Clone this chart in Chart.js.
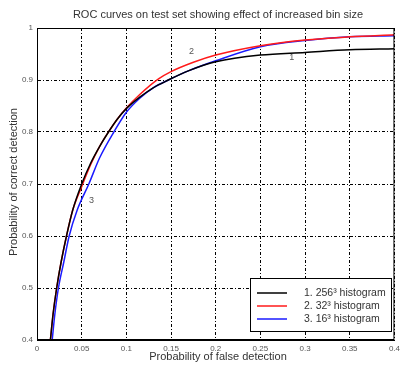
<!DOCTYPE html>
<html>
<head>
<meta charset="utf-8">
<script src="https://cdn.jsdelivr.net/npm/chart.js@4"></script>
<style>
  body { margin: 0; background: #fff; }
  canvas { display: block; }
</style>
</head>
<body>
<canvas id="rocChart" width="404" height="367"></canvas>
<script>
// 曲線データ (偽検出率 / 正検出率)
const fpr256 = [0.015, 0.018, 0.022, 0.027, 0.033, 0.040, 0.050, 0.060, 0.070, 0.080, 0.090, 0.100, 0.115, 0.130, 0.147, 0.170, 0.200, 0.250, 0.300, 0.350, 0.400];
const tpr256 = [0.40, 0.45, 0.50, 0.55, 0.60, 0.65, 0.70, 0.74, 0.772, 0.80, 0.825, 0.845, 0.867, 0.885, 0.90, 0.918, 0.935, 0.948, 0.953, 0.958, 0.960];

const fpr32 = [0.015, 0.018, 0.022, 0.027, 0.033, 0.040, 0.050, 0.060, 0.070, 0.080, 0.090, 0.100, 0.115, 0.136, 0.150, 0.175, 0.200, 0.250, 0.300, 0.350, 0.400];
const tpr32 = [0.40, 0.45, 0.50, 0.55, 0.60, 0.65, 0.695, 0.737, 0.772, 0.80, 0.825, 0.846, 0.872, 0.902, 0.916, 0.934, 0.948, 0.966, 0.977, 0.983, 0.987];

const fpr16 = [0.017, 0.020, 0.024, 0.030, 0.036, 0.045, 0.058, 0.070, 0.086, 0.100, 0.115, 0.130, 0.147, 0.170, 0.200, 0.250, 0.300, 0.350, 0.400];
const tpr16 = [0.40, 0.45, 0.50, 0.55, 0.60, 0.65, 0.70, 0.75, 0.80, 0.838, 0.865, 0.885, 0.90, 0.918, 0.937, 0.964, 0.976, 0.983, 0.985];

const seriesLabels = ['1. 256³ histogram', '2. 32³ histogram', '3. 16³ histogram'];
const curveTags = ['1', '2', '3'];

const toPoints = (xs, ys) => xs.map((x, i) => ({ x: x, y: ys[i] }));

// 枠・タイトル・凡例などを描くプラグイン
const decorPlugin = {
    id: 'decor',
    afterDraw(chart) {
        const ctx = chart.ctx;
        const area = chart.chartArea;
        const xs = chart.scales.x;
        const ys = chart.scales.y;
        ctx.save();

        // 外枠
        ctx.strokeStyle = '#000';
        ctx.lineWidth = 1;
        ctx.setLineDash([]);
        ctx.strokeRect(area.left + 0.5, area.top + 0.5, area.right - area.left - 1, area.bottom - area.top - 1);

        // タイトル
        ctx.fillStyle = '#333';
        ctx.font = '11px "Liberation Sans", Arial, sans-serif';
        ctx.textAlign = 'center';
        ctx.textBaseline = 'middle';
        ctx.fillText('ROC curves on test set showing effect of increased bin size', 218, 15);

        // 軸タイトル
        ctx.fillText('Probability of false detection', 218, 357);
        ctx.save();
        ctx.translate(14, 182);
        ctx.rotate(-Math.PI / 2);
        ctx.fillText('Probability of correct detection', 0, 0);
        ctx.restore();

        // 曲線番号
        ctx.fillStyle = '#555';
        ctx.font = '9px "Liberation Sans", Arial, sans-serif';
        ctx.fillText(curveTags[0], xs.getPixelForValue(0.285), ys.getPixelForValue(0.944));
        ctx.fillText(curveTags[1], xs.getPixelForValue(0.173), ys.getPixelForValue(0.955));
        ctx.fillText(curveTags[2], xs.getPixelForValue(0.061), ys.getPixelForValue(0.668));

        // 凡例
        const bx = 250, by = 278, bw = 141, bh = 53;
        ctx.fillStyle = '#fff';
        ctx.fillRect(bx, by, bw, bh);
        ctx.strokeStyle = '#000';
        ctx.strokeRect(bx + 0.5, by + 0.5, bw, bh);
        ctx.font = '10.5px "Liberation Sans", Arial, sans-serif';
        ctx.textAlign = 'left';
        chart.data.datasets.forEach((ds, i) => {
            const ry = by + 15 + i * 13;
            ctx.strokeStyle = ds.borderColor;
            ctx.lineWidth = 1.5;
            ctx.beginPath();
            ctx.moveTo(bx + 7, ry);
            ctx.lineTo(bx + 37, ry);
            ctx.stroke();
            ctx.fillStyle = '#333';
            ctx.fillText(ds.label, bx + 54, ry);
        });

        ctx.restore();
    }
};

function makeDataset(label, xs, ys, color) {
    return {
        label: label,
        data: toPoints(xs, ys),
        borderColor: color,
        backgroundColor: color,
        borderWidth: 1.5,
        pointRadius: 0,
        cubicInterpolationMode: 'monotone',
        showLine: true,
        fill: false
    };
}

const ctx = document.getElementById('rocChart').getContext('2d');
new Chart(ctx, {
    type: 'scatter',
    data: {
        datasets: [
            makeDataset(seriesLabels[0], fpr256, tpr256, '#000000'),
            makeDataset(seriesLabels[1], fpr32, tpr32, '#ff1a1a'),
            makeDataset(seriesLabels[2], fpr16, tpr16, '#1a1aff')
        ]
    },
    options: {
        responsive: false,
        animation: false,
        layout: { padding: { top: 28, right: 5, left: 0, bottom: 0 } },
        plugins: {
            legend: { display: false },
            title: { display: false },
            tooltip: { enabled: false }
        },
        scales: {
            x: {
                type: 'linear',
                min: 0,
                max: 0.4,
                afterFit: scale => { scale.height = 27; },
                ticks: {
                    stepSize: 0.05,
                    padding: 4,
                    color: '#555',
                    font: { size: 8, family: '"Liberation Sans", Arial, sans-serif' },
                    maxRotation: 0,
                    callback: v => String(Number(v.toFixed(2)))
                },
                grid: {
                    color: '#000',
                    lineWidth: 1,
                    drawTicks: false
                },
                border: { display: true, color: '#000', dash: [3, 2, 1, 2] }
            },
            y: {
                type: 'linear',
                min: 0.4,
                max: 1,
                afterFit: scale => { scale.width = 37; },
                ticks: {
                    stepSize: 0.1,
                    padding: 4,
                    color: '#555',
                    font: { size: 8, family: '"Liberation Sans", Arial, sans-serif' },
                    callback: v => String(Number(v.toFixed(1)))
                },
                grid: {
                    color: '#000',
                    lineWidth: 1,
                    drawTicks: false
                },
                border: { display: true, color: '#000', dash: [3, 2, 1, 2] }
            }
        }
    },
    plugins: [decorPlugin]
});
</script>
</body>
</html>
